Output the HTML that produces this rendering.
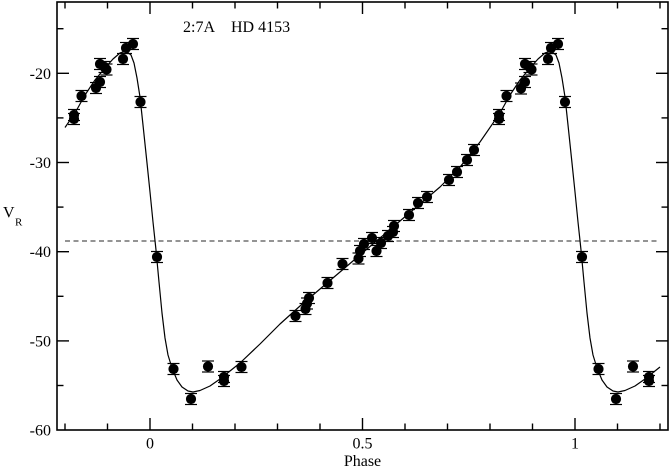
<!DOCTYPE html>
<html><head><meta charset="utf-8">
<style>
html,body{margin:0;padding:0;background:#fff;}
svg{display:block;}
text{font-family:"Liberation Serif",serif;fill:#000;}
</style></head>
<body>
<svg width="671" height="468" viewBox="0 0 671 468" xmlns="http://www.w3.org/2000/svg">
<rect x="0" y="0" width="671" height="468" fill="#fff"/>
<line x1="65" y1="241" x2="660" y2="241" stroke="#707070" stroke-width="1.5" stroke-dasharray="5,3.5"/>
<rect x="57" y="2" width="611" height="428" fill="none" stroke="#000" stroke-width="1.6"/>
<g stroke="#000" stroke-width="1.4">
<line x1="57" y1="73.3" x2="69" y2="73.3"/>
<line x1="57" y1="162.5" x2="69" y2="162.5"/>
<line x1="57" y1="251.7" x2="69" y2="251.7"/>
<line x1="57" y1="340.9" x2="69" y2="340.9"/>
<line x1="57" y1="28.7" x2="63.5" y2="28.7"/>
<line x1="57" y1="117.9" x2="63.5" y2="117.9"/>
<line x1="57" y1="207.1" x2="63.5" y2="207.1"/>
<line x1="57" y1="296.3" x2="63.5" y2="296.3"/>
<line x1="57" y1="385.5" x2="63.5" y2="385.5"/>
<line x1="668" y1="73.3" x2="656" y2="73.3"/>
<line x1="668" y1="162.5" x2="656" y2="162.5"/>
<line x1="668" y1="251.7" x2="656" y2="251.7"/>
<line x1="668" y1="340.9" x2="656" y2="340.9"/>
<line x1="668" y1="28.7" x2="661.5" y2="28.7"/>
<line x1="668" y1="117.9" x2="661.5" y2="117.9"/>
<line x1="668" y1="207.1" x2="661.5" y2="207.1"/>
<line x1="668" y1="296.3" x2="661.5" y2="296.3"/>
<line x1="668" y1="385.5" x2="661.5" y2="385.5"/>
<line x1="150" y1="430" x2="150" y2="418"/>
<line x1="362.5" y1="430" x2="362.5" y2="418"/>
<line x1="575" y1="430" x2="575" y2="418"/>
<line x1="65" y1="430" x2="65" y2="423.5"/>
<line x1="107.5" y1="430" x2="107.5" y2="423.5"/>
<line x1="192.5" y1="430" x2="192.5" y2="423.5"/>
<line x1="235" y1="430" x2="235" y2="423.5"/>
<line x1="277.5" y1="430" x2="277.5" y2="423.5"/>
<line x1="320" y1="430" x2="320" y2="423.5"/>
<line x1="405" y1="430" x2="405" y2="423.5"/>
<line x1="447.5" y1="430" x2="447.5" y2="423.5"/>
<line x1="490" y1="430" x2="490" y2="423.5"/>
<line x1="532.5" y1="430" x2="532.5" y2="423.5"/>
<line x1="617.5" y1="430" x2="617.5" y2="423.5"/>
<line x1="660" y1="430" x2="660" y2="423.5"/>
<line x1="150" y1="2" x2="150" y2="14"/>
<line x1="362.5" y1="2" x2="362.5" y2="14"/>
<line x1="575" y1="2" x2="575" y2="14"/>
<line x1="65" y1="2" x2="65" y2="8.5"/>
<line x1="107.5" y1="2" x2="107.5" y2="8.5"/>
<line x1="192.5" y1="2" x2="192.5" y2="8.5"/>
<line x1="235" y1="2" x2="235" y2="8.5"/>
<line x1="277.5" y1="2" x2="277.5" y2="8.5"/>
<line x1="320" y1="2" x2="320" y2="8.5"/>
<line x1="405" y1="2" x2="405" y2="8.5"/>
<line x1="447.5" y1="2" x2="447.5" y2="8.5"/>
<line x1="490" y1="2" x2="490" y2="8.5"/>
<line x1="532.5" y1="2" x2="532.5" y2="8.5"/>
<line x1="617.5" y1="2" x2="617.5" y2="8.5"/>
<line x1="660" y1="2" x2="660" y2="8.5"/>
</g>
<g font-size="16" text-anchor="end">
<text x="51" y="78.8">-20</text>
<text x="51" y="168">-30</text>
<text x="51" y="257.2">-40</text>
<text x="51" y="346.4">-50</text>
<text x="51" y="435.5">-60</text>
</g>
<g font-size="16" text-anchor="middle">
<text x="150" y="448.5">0</text>
<text x="362.5" y="448.5">0.5</text>
<text x="575" y="448.5">1</text>
<text x="362.5" y="466">Phase</text>
</g>
<text x="3" y="217.5" font-size="16">V</text>
<text x="15" y="225.5" font-size="11">R</text>
<text x="183" y="32" font-size="16">2:7A</text>
<text x="231" y="32" font-size="16">HD 4153</text>
<polyline fill="none" stroke="#000" stroke-width="1.2" stroke-linejoin="round" points="65,127.5 75,113 85,95 95,80 105,68 113,59 120,53 126,51 131,55 134,63 137,78 140,97 143,125 147,163 150,192 153,222 156,250 159,282 162,313 165,338 168,355 172,368 177,380 182,387 188,391 193,392 200,390.5 210,386 220,379 230,371 240,363 260,344 280,324 300,306 320,289 340,272 360,255 380,238 400,221 420,204 440,187 460,167 480,142 500,113 510,95 520,80 530,68 538,59 545,53 551,51 556,55 559,63 562,78 565,97 568,125 572,163 575,192 578,222 581,250 584,282 587,313 590,338 593,355 597,368 602,380 607,387 613,391 618,392 625,390.5 635,386 645,379 655,371 660,367"/>
<defs>
<g id="p">
<circle cx="0" cy="0" r="5.1" fill="#000"/>
<line x1="-6" y1="-5.5" x2="6" y2="-5.5" stroke="#000" stroke-width="1.2"/>
<line x1="-6" y1="5.5" x2="6" y2="5.5" stroke="#000" stroke-width="1.2"/>
<line x1="0" y1="-5.5" x2="0" y2="5.5" stroke="#000" stroke-width="1.2"/>
</g>
</defs>
<use href="#p" x="74" y="115"/>
<use href="#p" x="74" y="119"/>
<use href="#p" x="81.5" y="96"/>
<use href="#p" x="96" y="88"/>
<use href="#p" x="100" y="82"/>
<use href="#p" x="100" y="64"/>
<use href="#p" x="104.5" y="67"/>
<use href="#p" x="106.5" y="69.5"/>
<use href="#p" x="123" y="59"/>
<use href="#p" x="126" y="48"/>
<use href="#p" x="133" y="44"/>
<use href="#p" x="140.5" y="102"/>
<use href="#p" x="157" y="257"/>
<use href="#p" x="173.5" y="369"/>
<use href="#p" x="191" y="399"/>
<use href="#p" x="208" y="366.5"/>
<use href="#p" x="224" y="377"/>
<use href="#p" x="224" y="381"/>
<use href="#p" x="241.5" y="367"/>
<use href="#p" x="295.5" y="316"/>
<use href="#p" x="305.5" y="309"/>
<use href="#p" x="307" y="303.5"/>
<use href="#p" x="309" y="298"/>
<use href="#p" x="327.5" y="283"/>
<use href="#p" x="342.5" y="264"/>
<use href="#p" x="358.5" y="258.5"/>
<use href="#p" x="360" y="251"/>
<use href="#p" x="364" y="244"/>
<use href="#p" x="372" y="238"/>
<use href="#p" x="376.5" y="251"/>
<use href="#p" x="381" y="243"/>
<use href="#p" x="388" y="236"/>
<use href="#p" x="393" y="232"/>
<use href="#p" x="394" y="226"/>
<use href="#p" x="409" y="215"/>
<use href="#p" x="418" y="203"/>
<use href="#p" x="427" y="197"/>
<use href="#p" x="449" y="180"/>
<use href="#p" x="457" y="172"/>
<use href="#p" x="467" y="160"/>
<use href="#p" x="474" y="150"/>
<use href="#p" x="499" y="115"/>
<use href="#p" x="499" y="119"/>
<use href="#p" x="506.5" y="96"/>
<use href="#p" x="521" y="88.5"/>
<use href="#p" x="525" y="82"/>
<use href="#p" x="525" y="64"/>
<use href="#p" x="529.5" y="67"/>
<use href="#p" x="531.5" y="69.5"/>
<use href="#p" x="548" y="59"/>
<use href="#p" x="551" y="48"/>
<use href="#p" x="558" y="44"/>
<use href="#p" x="565" y="102"/>
<use href="#p" x="582" y="257"/>
<use href="#p" x="598.5" y="369"/>
<use href="#p" x="616" y="399"/>
<use href="#p" x="633" y="366.5"/>
<use href="#p" x="649" y="377"/>
<use href="#p" x="649" y="381"/>
</svg>
</body></html>
